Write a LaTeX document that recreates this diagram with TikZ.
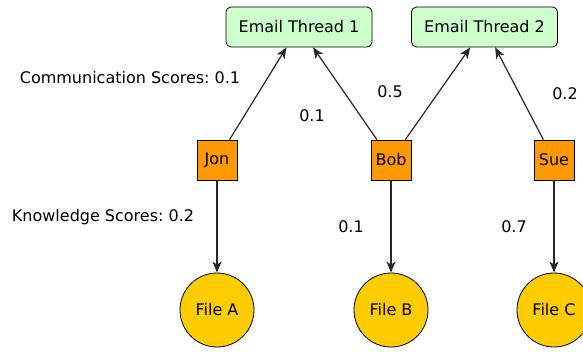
\documentclass[tikz,border=0pt]{standalone}
\usepackage{fontspec}
\setmainfont{DejaVu Sans}
\usetikzlibrary{arrows.meta}
\frenchspacing

\definecolor{threadgreen}{HTML}{CCFFCC}
\definecolor{persorange}{HTML}{FF9900}
\definecolor{filegold}{HTML}{FFCC00}

\tikzset{
  thread/.style={draw, rounded corners=5pt, fill=threadgreen, minimum width=146pt, minimum height=40pt, inner sep=0pt},
  person/.style={draw, fill=persorange, minimum size=40pt, inner sep=0pt},
  file/.style={draw, circle, fill=filegold, minimum size=74pt, inner sep=0pt},
  link/.style={-{Stealth[length=11pt,width=9pt,inset=3pt]}, line width=1.2pt, draw=black!85},
  score/.style={inner sep=0pt}
}

\begin{document}
\begin{tikzpicture}[x=1pt,y=-1pt,font=\fontsize{16}{19}\selectfont,thick]
		\newcommand{\rowthread}{27}
		\newcommand{\rowperson}{160}
		\newcommand{\rowfile}{310}

		\clip (0,0) rectangle (583,351);
		\useasboundingbox (0,0) rectangle (583,351);

		% email threads
		\node[thread] (et1) at (299,\rowthread) {Email Thread 1};
		\node[thread] (et2) at (484.5,\rowthread) {Email Thread 2};

		% people
		\node[person] (jon) at (217,\rowperson) {Jon};
		\node[person] (bob) at (391,\rowperson) {Bob};
		\node[person] (sue) at (554,\rowperson) {Sue};

		% files
		\node[file] (fa) at (217,\rowfile) {File A};
		\node[file] (fb) at (391,\rowfile) {File B};
		\node[file] (fc) at (554,\rowfile) {File C};

		% communication links
		\draw[link] (jon) -- (et1);
		\draw[link] (bob) -- (et1);
		\draw[link] (bob) -- (et2);
		\draw[link] (sue) -- (et2);

		% knowledge links
		\draw[link] (jon) -- (fa);
		\draw[link] (bob) -- (fb);
		\draw[link] (sue) -- (fc);

		% scores
		\node[score] (comm) at (130,78) {Communication Scores: 0.1};
		\node[score] (cbob1) at (312,116) {0.1};
		\node[score] (cbob2) at (390,92) {0.5};
		\node[score] (csue) at (565,94) {0.2};
		\node[score] (know) at (103,217) {Knowledge Scores: 0.2};
		\node[score] (kbob) at (351,227) {0.1};
		\node[score] (ksue) at (514,227) {0.7};
\end{tikzpicture}
\end{document}
